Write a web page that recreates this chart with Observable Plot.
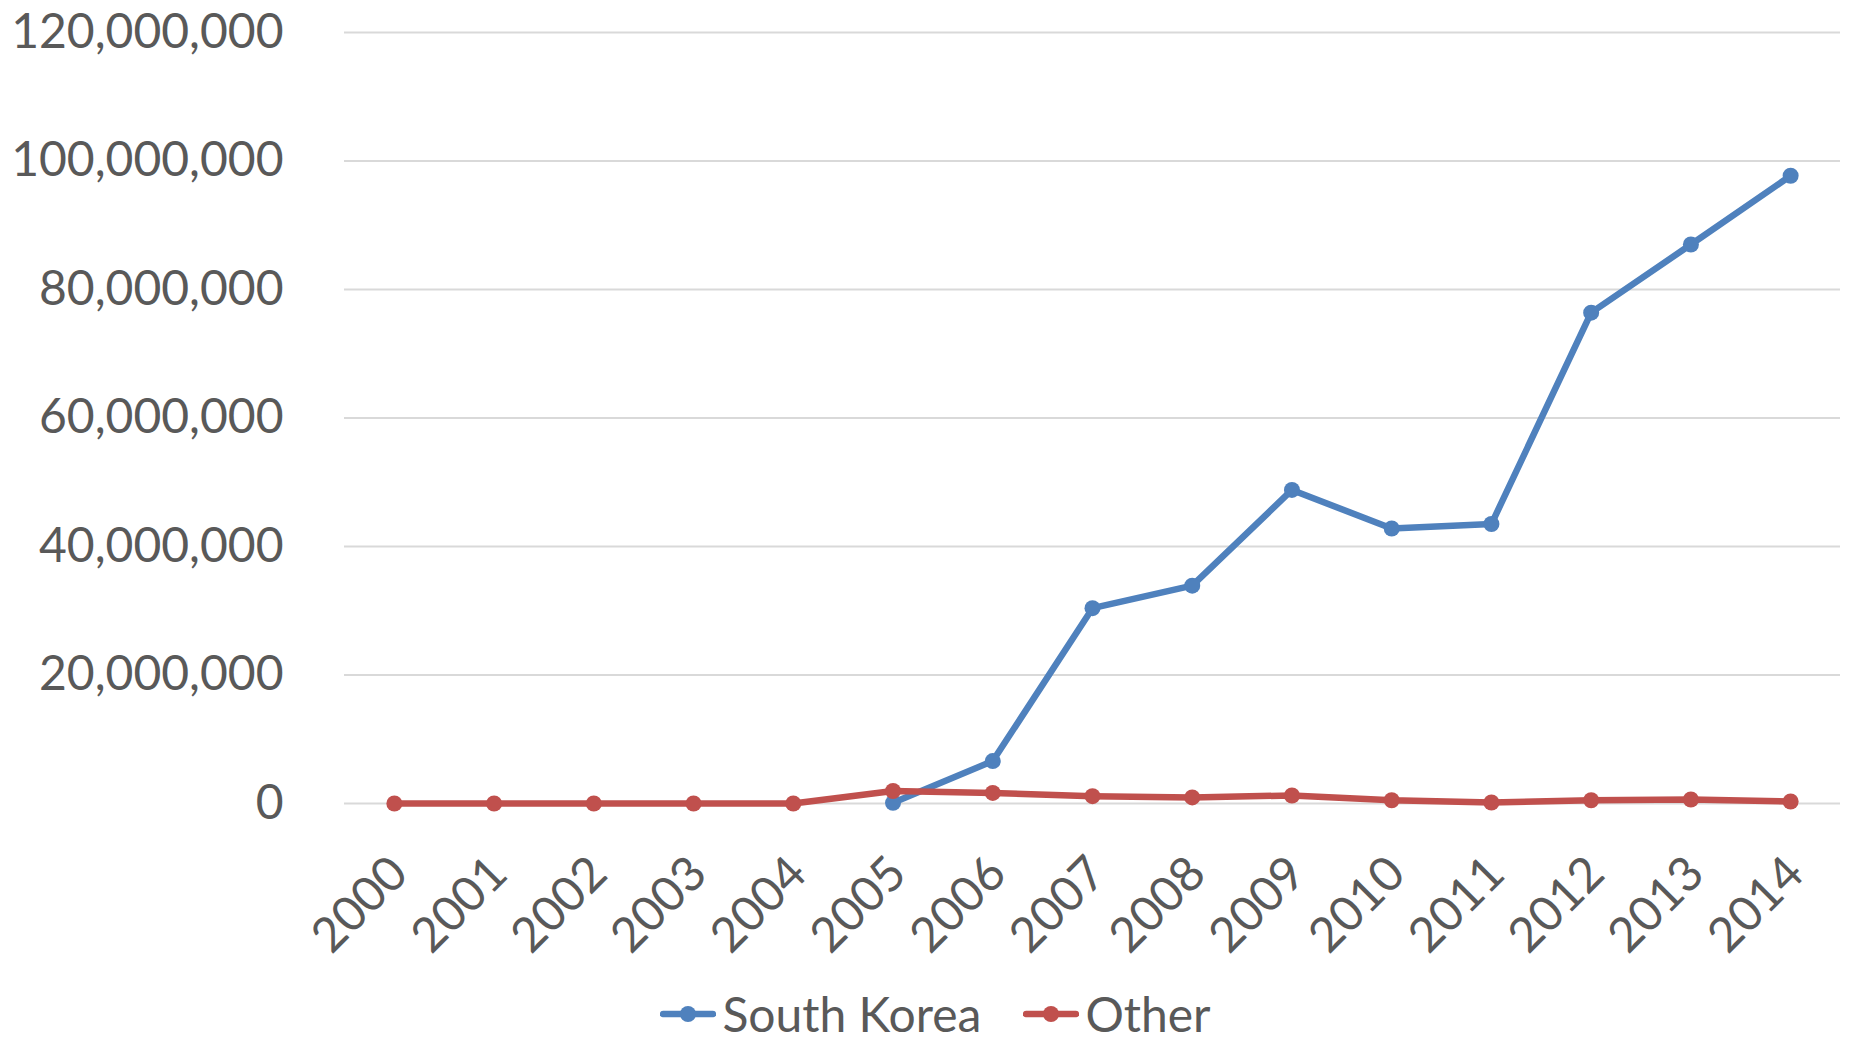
<!DOCTYPE html>
<html>
<head>
<meta charset="utf-8">
<script src="https://cdn.jsdelivr.net/npm/d3@7"></script>
<script src="https://cdn.jsdelivr.net/npm/@observablehq/plot@0.6"></script>
<style>
  body { margin: 0; background: #fff; font-family: Lato, sans-serif; }
  #legend { height: 80px; box-sizing: border-box; padding-top: 30px; display: flex; justify-content: center; padding-left: 22px;
            color: #595959; font-size: 48px; line-height: 48px; }
  .item { display: flex; align-items: center; height: 48px; }
  .item svg { margin-right: 6px; }
  .item + .item { margin-left: 42px; }
</style>
</head>
<body>
<div id="chart"></div>
<div id="legend"></div>
<script>
const years = [2000, 2001, 2002, 2003, 2004, 2005, 2006, 2007, 2008, 2009, 2010, 2011, 2012, 2013, 2014];
const southKorea = [null, null, null, null, null, 100000, 6600000, 30400000, 33900000, 48800000, 42800000, 43500000, 76400000, 87000000, 97700000];
const other = [0, 0, 0, 0, 0, 1950000, 1650000, 1140000, 950000, 1250000, 510000, 160000, 510000, 620000, 310000];
const seriesNames = ["South Korea", "Other"];
const seriesColors = ["#4f81bd", "#c0504d"];
const yTicks = [0, 20000000, 40000000, 60000000, 80000000, 100000000, 120000000];

const rows = [];
years.forEach((yr, i) => {
  if (southKorea[i] != null) rows.push({year: yr, series: seriesNames[0], value: southKorea[i]});
});
years.forEach((yr, i) => {
  if (other[i] != null) rows.push({year: yr, series: seriesNames[1], value: other[i]});
});

const chart = Plot.plot({
  width: 1849,
  height: 960,
  marginLeft: 344,
  marginRight: 9,
  marginTop: 32,
  marginBottom: 157,
  style: { fontFamily: "Lato, sans-serif", fontSize: "48px", color: "#595959", background: "#fff", overflow: "visible" },
  x: { type: "point", domain: years, padding: 0.5, round: false },
  y: { domain: [0, 120000000] },
  color: { domain: seriesNames, range: seriesColors },
  marks: [
    Plot.gridY(yTicks, { stroke: "#d9d9d9", strokeOpacity: 1, strokeWidth: 2 }),
    Plot.axisY(yTicks, { tickSize: 0, tickPadding: 61, tickFormat: d3.format(","), label: null, fontSize: 48, fill: "#595959" }),
    Plot.axisX(years, { tickSize: 0, tickPadding: 62, tickRotate: -45, dx: 5, tickFormat: d => String(d), label: null, fontSize: 48, fill: "#595959" }),
    Plot.line(rows, { x: "year", y: "value", z: "series", stroke: "series", strokeWidth: 6.5, strokeLinejoin: "round", strokeLinecap: "round" }),
    Plot.dot(rows, { x: "year", y: "value", fill: "series", r: 8 })
  ]
});
document.getElementById("chart").appendChild(chart);

const legend = document.getElementById("legend");
seriesNames.forEach((name, i) => {
  const item = document.createElement("div");
  item.className = "item";
  item.innerHTML = `<svg width="56" height="20"><line x1="3" y1="10" x2="53" y2="10" stroke="${seriesColors[i]}" stroke-width="6.5" stroke-linecap="round"/><circle cx="28" cy="10" r="8" fill="${seriesColors[i]}"/></svg><span>${name}</span>`;
  legend.appendChild(item);
});
</script>
</body>
</html>
